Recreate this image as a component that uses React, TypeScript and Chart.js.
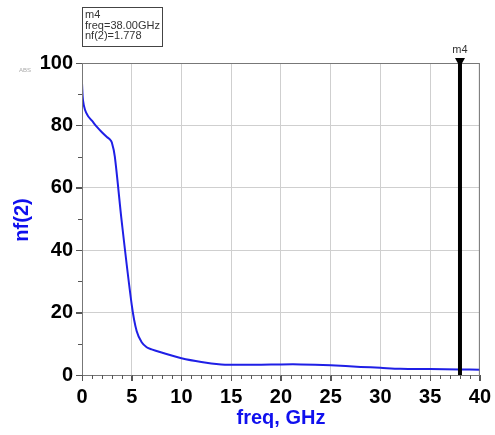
import React, { useEffect, useRef } from "react";
import { Chart, registerables } from "chart.js";

Chart.register(...registerables);

const freqGHz = [0, 0.1, 0.3, 0.6, 1.0, 1.5, 2.0, 2.5, 2.8, 3.0, 3.3, 4.0, 5.0, 5.5, 6.0, 6.5, 7.0, 8.0, 10.0, 12.0, 14.0, 15.0, 18.0, 20.0, 22.0, 25.0, 28.0, 30.0, 32.0, 35.0, 38.0, 40.0];
const nf2 = [93.5, 88.0, 85.0, 83.0, 81.5, 79.5, 77.8, 76.3, 75.5, 74.5, 70.0, 49.0, 22.5, 14.0, 10.5, 8.9, 8.2, 7.2, 5.4, 4.2, 3.4, 3.3, 3.3, 3.4, 3.4, 3.1, 2.6, 2.3, 2.0, 1.9, 1.778, 1.7];

const xTicks = [0, 5, 10, 15, 20, 25, 30, 35, 40];
const yTicks = [0, 20, 40, 60, 80, 100];
const markerName = "m4";
const markerFreq = 38.0;
const markerValue = 1.778;
const xTitle = "freq, GHz";
const yTitle = "nf(2)";

const overlayPlugin = {
  id: "adsOverlay",
  afterDraw(chart: any) {
    const ctx = chart.ctx as CanvasRenderingContext2D;
    const area = chart.chartArea;
    const xs = chart.scales.x;
    const ys = chart.scales.y;
    ctx.save();
    // frame
    ctx.strokeStyle = "#777";
    ctx.lineWidth = 1;
    ctx.strokeRect(area.left + 0.5, area.top + 0.5, area.right - area.left - 1, area.bottom - area.top);
    // minor ticks x
    ctx.strokeStyle = "#555";
    ctx.beginPath();
    for (let f = 0; f <= 40; f += 1) {
      const px = Math.round(xs.getPixelForValue(f)) + 0.5;
      const len = f % 5 === 0 ? 6 : 4;
      ctx.moveTo(px, area.bottom);
      ctx.lineTo(px, area.bottom + len);
    }
    for (let v = 0; v <= 100; v += 10) {
      const py = Math.round(ys.getPixelForValue(v)) + 0.5;
      const len = v % 20 === 0 ? 6 : 4;
      ctx.moveTo(area.left, py);
      ctx.lineTo(area.left - len, py);
    }
    ctx.stroke();
    // axis titles
    ctx.fillStyle = "#1010ee";
    ctx.font = "bold 20px Arial, 'Liberation Sans', sans-serif";
    ctx.textAlign = "center";
    ctx.textBaseline = "middle";
    ctx.fillText(xTitle, (area.left + area.right) / 2, 418);
    ctx.save();
    ctx.translate(22, 220);
    ctx.rotate(-Math.PI / 2);
    ctx.fillText(yTitle, 0, 0);
    ctx.restore();
    // marker line
    const mx = xs.getPixelForValue(markerFreq);
    ctx.strokeStyle = "#000";
    ctx.lineWidth = 4;
    ctx.beginPath();
    ctx.moveTo(mx, area.top);
    ctx.lineTo(mx, area.bottom);
    ctx.stroke();
    ctx.fillStyle = "#000";
    ctx.beginPath();
    ctx.moveTo(mx - 5, area.top - 5);
    ctx.lineTo(mx + 5, area.top - 5);
    ctx.lineTo(mx, area.top + 4);
    ctx.closePath();
    ctx.fill();
    ctx.fillStyle = "#333";
    ctx.font = "11px Arial, 'Liberation Sans', sans-serif";
    ctx.textAlign = "center";
    ctx.textBaseline = "middle";
    ctx.fillText(markerName, mx, area.top - 13);
    // info box
    ctx.strokeStyle = "#444";
    ctx.lineWidth = 1;
    ctx.strokeRect(82.5, 7.5, 80, 39);
    ctx.textAlign = "left";
    ctx.fillText(markerName, 85, 15);
    ctx.fillText("freq=" + markerFreq.toFixed(2) + "GHz", 85, 25.5);
    ctx.fillText("nf(2)=" + markerValue.toFixed(3), 85, 36);
    // tiny ABS label
    ctx.fillStyle = "#aaa";
    ctx.font = "6px Arial, sans-serif";
    ctx.textAlign = "center";
    ctx.fillText("ABS", 25, 70);
    ctx.restore();
  },
};

export default function App() {
  const ref = useRef<HTMLCanvasElement | null>(null);
  useEffect(() => {
    if (!ref.current) return;
    const chart = new Chart(ref.current, {
      type: "line",
      data: {
        datasets: [
          {
            data: freqGHz.map((f, i) => ({ x: f, y: nf2[i] })),
            borderColor: "#1f1fe6",
            borderWidth: 2,
            pointRadius: 0,
            tension: 0.3,
            fill: false,
          },
        ],
      },
      options: {
        animation: false,
        responsive: false,
        maintainAspectRatio: false,
        layout: { padding: { left: 0, top: 63, right: 11, bottom: 0 } },
        plugins: { legend: { display: false }, tooltip: { enabled: false } },
        scales: {
          x: {
            type: "linear",
            min: 0,
            max: 40,
            afterFit: (s: any) => { s.height = 60; },
            afterBuildTicks: (s: any) => { s.ticks = xTicks.map((v) => ({ value: v })); },
            ticks: {
              color: "#000",
              font: { family: "Arial, 'Liberation Sans', sans-serif", size: 20, weight: "bold" },
              padding: 4,
              maxRotation: 0,
            },
            grid: { color: "#cfcfcf", lineWidth: 1, drawTicks: true, tickLength: 6, tickColor: "#555" },
            border: { color: "#666", width: 1 },
          },
          y: {
            type: "linear",
            min: 0,
            max: 100,
            afterFit: (s: any) => { s.width = 82; },
            afterBuildTicks: (s: any) => { s.ticks = yTicks.map((v) => ({ value: v })); },
            ticks: {
              color: "#000",
              font: { family: "Arial, 'Liberation Sans', sans-serif", size: 20, weight: "bold" },
              padding: 3,
            },
            grid: { color: "#cfcfcf", lineWidth: 1, drawTicks: true, tickLength: 6, tickColor: "#555" },
            border: { color: "#666", width: 1 },
          },
        },
      },
      plugins: [overlayPlugin],
    } as any);
    return () => chart.destroy();
  }, []);
  return (
    <div style={{ position: "fixed", left: 0, top: 0, width: 495, height: 435, background: "#fff" }}>
      <canvas ref={ref} width={495} height={435} style={{ width: 495, height: 435 }} />
    </div>
  );
}
